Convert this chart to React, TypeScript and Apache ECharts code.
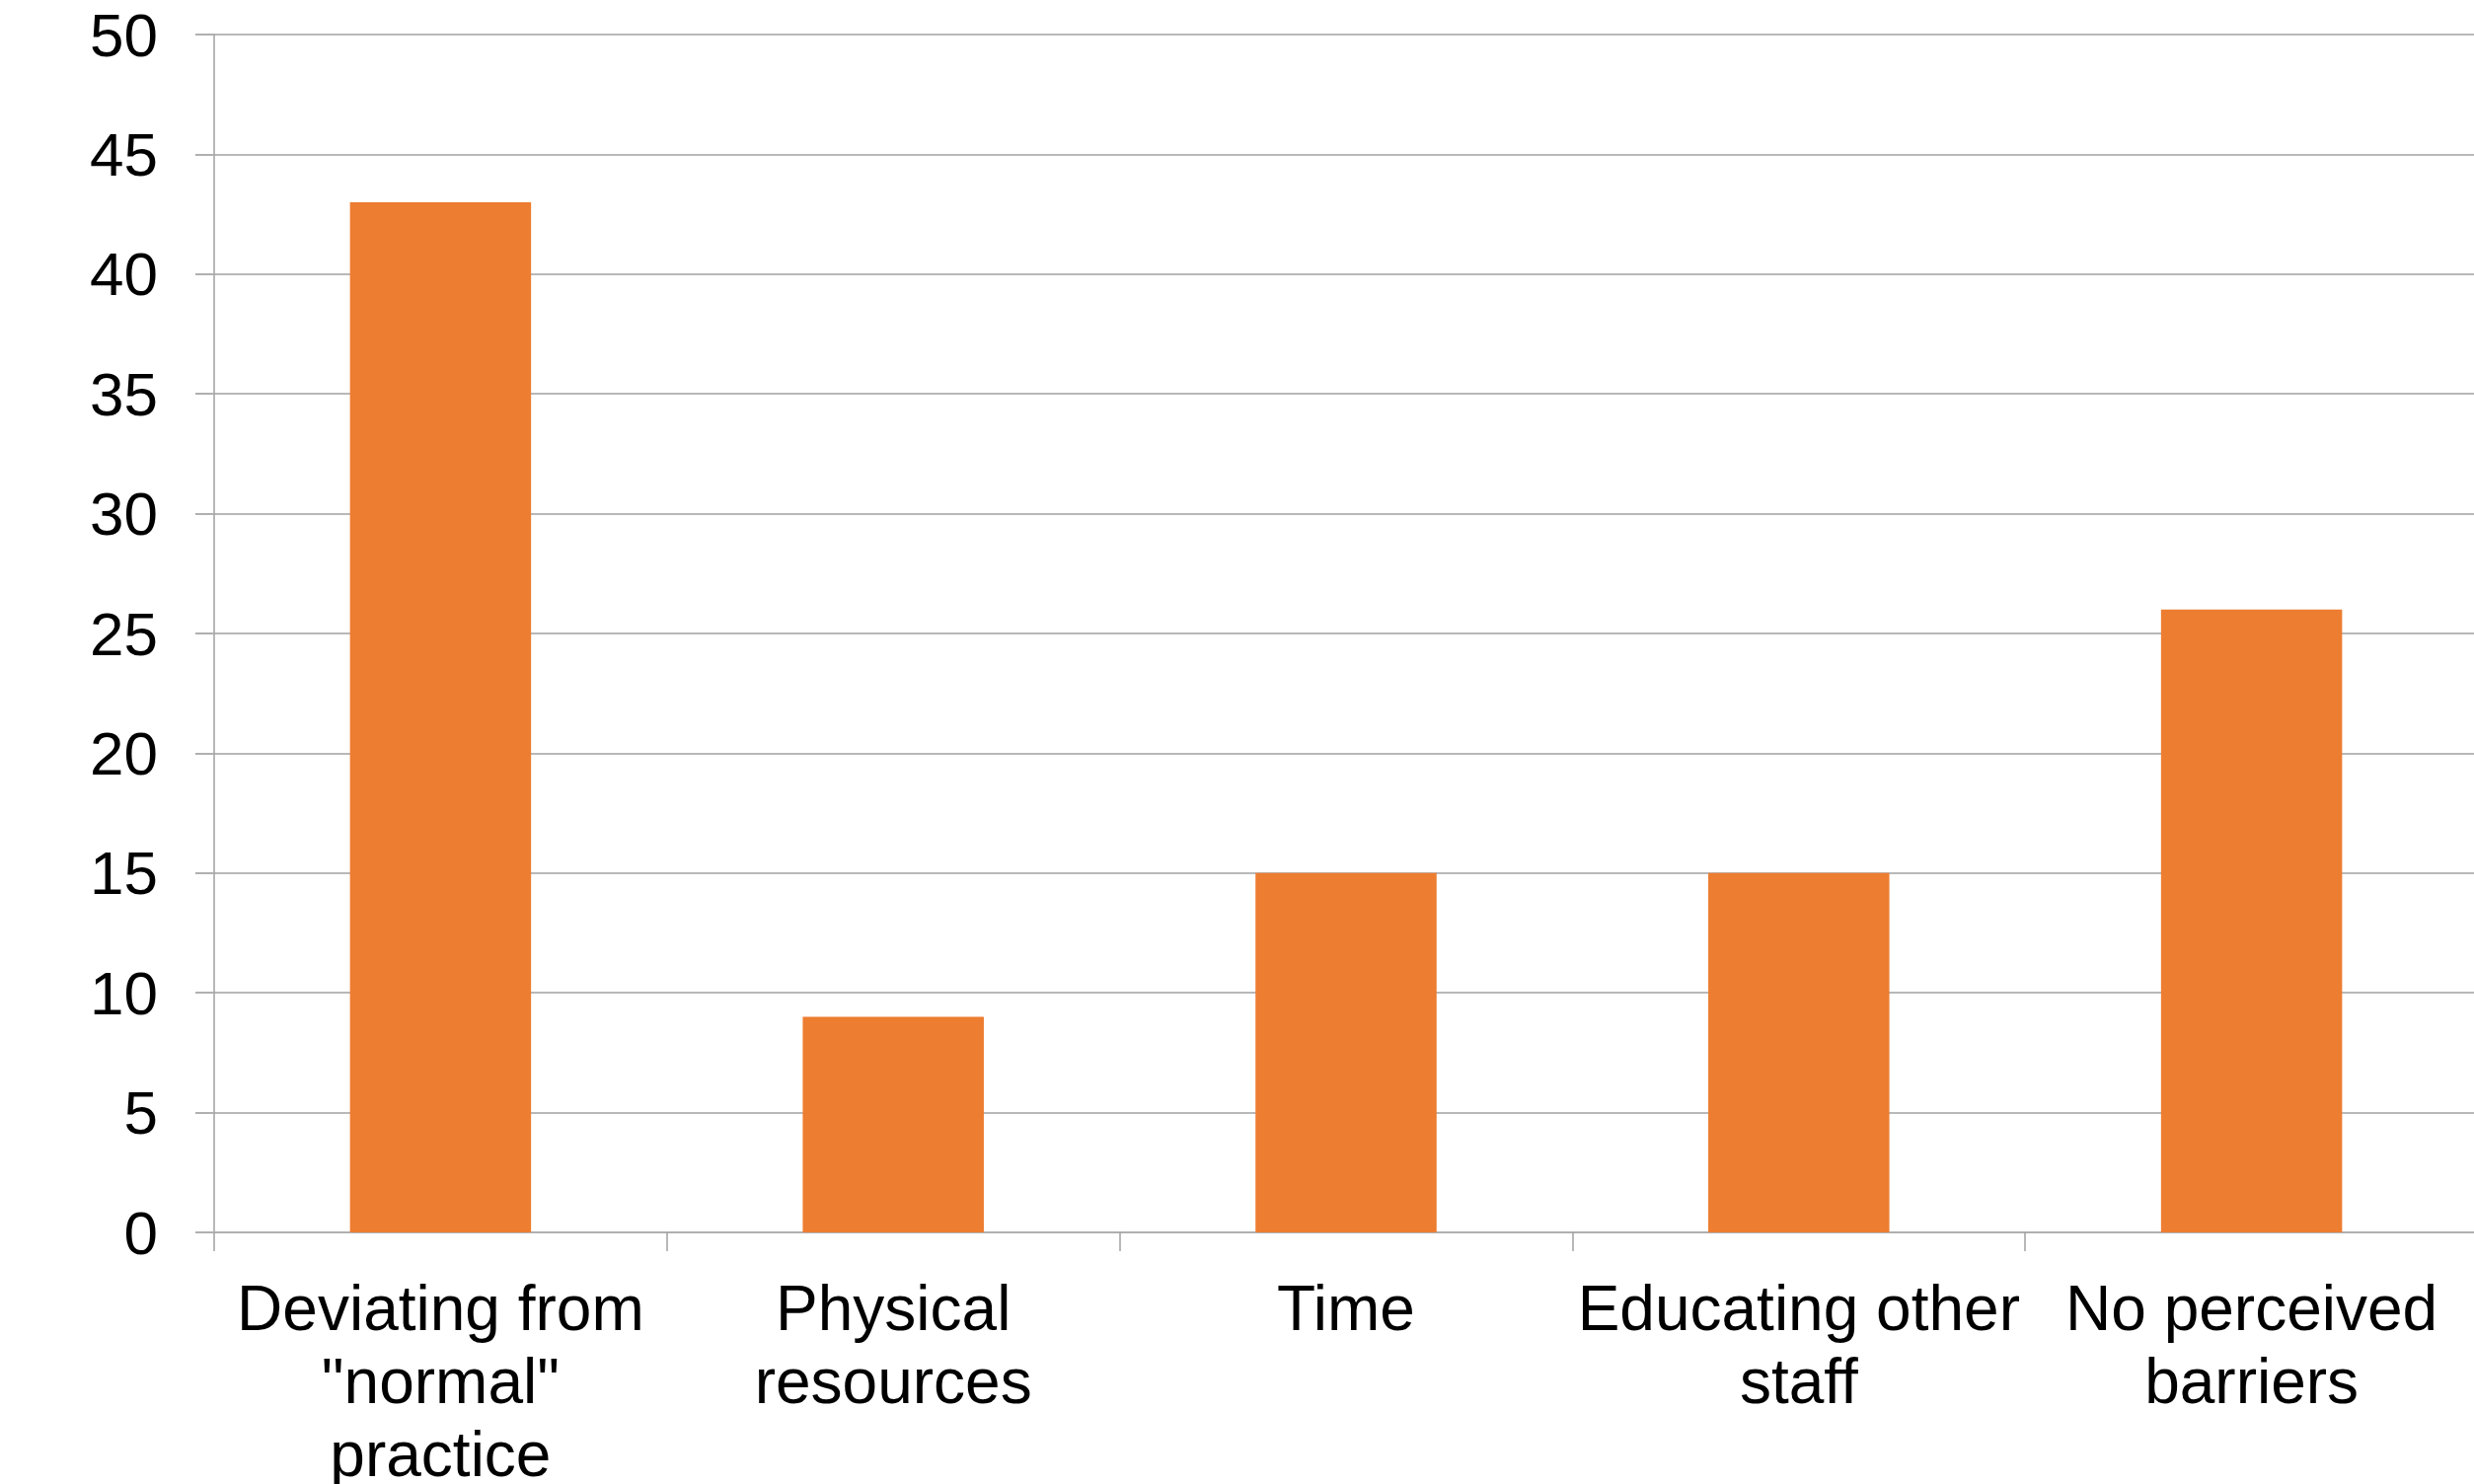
import React, { useEffect, useRef } from "react";
import * as echarts from "echarts";

const categories = [
  'Deviating from\n"normal"\npractice',
  "Physical\nresources",
  "Time",
  "Educating other\nstaff",
  "No perceived\nbarriers",
];
const values = [43, 9, 15, 15, 26];
const yTicks = [0, 5, 10, 15, 20, 25, 30, 35, 40, 45, 50];

export default function App() {
  const ref = useRef<HTMLDivElement>(null);
  useEffect(() => {
    document.body.style.margin = "0";
    document.body.style.overflow = "hidden";
    document.documentElement.style.overflow = "hidden";
    const chart = echarts.init(ref.current!, null, { renderer: "svg" });
    const font = "'Liberation Sans', Arial, sans-serif";
    chart.setOption({
      animation: false,
      backgroundColor: "#ffffff",
      grid: {
        left: 217,
        right: 9,
        top: 35,
        bottom: 1504 - 1249,
        containLabel: false,
        outerBoundsMode: "none",
      },
      xAxis: {
        type: "category",
        data: categories,
        axisLine: { show: true, lineStyle: { color: "#b0b0b0", width: 2 } },
        axisTick: { show: true, length: 19, alignWithLabel: false, lineStyle: { color: "#a0a0a0", width: 1.5 } },
        axisLabel: {
          color: "#000000",
          fontSize: 64,
          fontFamily: font,
          lineHeight: 74,
          margin: 40,
          interval: 0,
        },
      },
      yAxis: {
        type: "value",
        min: yTicks[0],
        max: yTicks[yTicks.length - 1],
        interval: 5,
        axisLine: { show: true, lineStyle: { color: "#a0a0a0", width: 1.5 } },
        axisTick: { show: true, length: 19, lineStyle: { color: "#b0b0b0", width: 2 } },
        splitLine: { show: true, lineStyle: { color: "#b8b8b8", width: 2 } },
        axisLabel: {
          color: "#000000",
          fontSize: 62,
          fontFamily: font,
          margin: 57,
        },
      },
      series: [
        {
          type: "bar",
          data: values,
          barWidth: "40%",
          itemStyle: { color: "#ED7D31" },
        },
      ],
    });
    return () => chart.dispose();
  }, []);
  return (
    <div
      ref={ref}
      style={{ position: "fixed", left: 0, top: 0, width: 2520, height: 1504 }}
    />
  );
}
